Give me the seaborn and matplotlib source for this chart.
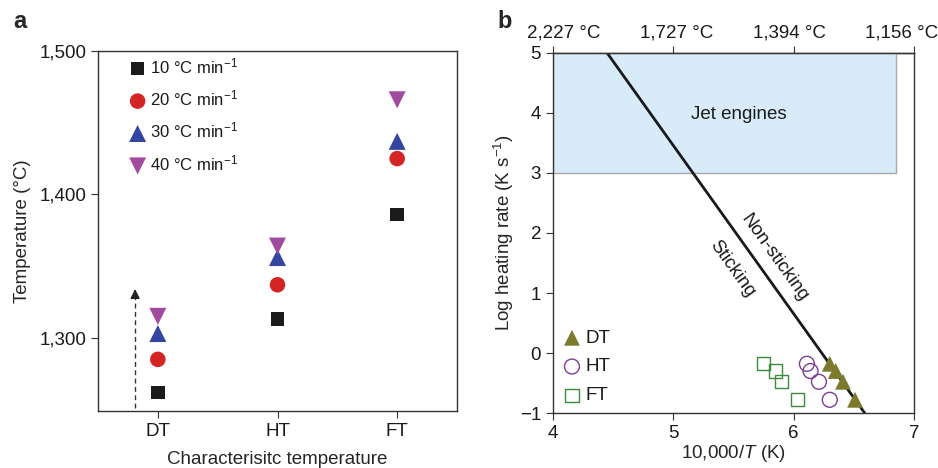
import numpy as np
import pandas as pd
import matplotlib
matplotlib.use("Agg")
import matplotlib.pyplot as plt
import matplotlib.transforms as mtransforms
from matplotlib.ticker import FuncFormatter
from matplotlib.patches import Rectangle
import seaborn as sns

# ---- panel a: characteristic temperatures at four heating rates ----
categories = ["DT", "HT", "FT"]
rate_labels = ["10 °C min$^{-1}$", "20 °C min$^{-1}$", "30 °C min$^{-1}$", "40 °C min$^{-1}$"]
temp_10 = [1262, 1313, 1386]
temp_20 = [1285, 1337, 1425]
temp_30 = [1303, 1356, 1437]
temp_40 = [1315, 1364, 1466]
rate_colors = ["#1b1b1b", "#d42424", "#3545a2", "#a24b9e"]
rate_markers = ["s", "o", "^", "v"]
rate_sizes = [95, 125, 150, 150]

# ---- panel b: heating-rate map ----
dt_x = [6.51, 6.41, 6.35, 6.30]
dt_y = [-0.78, -0.48, -0.30, -0.18]
ht_x = [6.30, 6.21, 6.14, 6.11]
ht_y = [-0.78, -0.48, -0.30, -0.18]
ft_x = [6.03, 5.90, 5.85, 5.75]
ft_y = [-0.78, -0.48, -0.30, -0.18]
boundary_x = [4.45, 6.59]
boundary_y = [5.0, -1.0]
jet_x = [4.0, 6.85]
jet_y = [3.0, 5.0]
top_ticks = [4, 5, 6, 7]
top_labels = ["2,227 °C", "1,727 °C", "1,394 °C", "1,156 °C"]

sns.set_style("ticks")
plt.rcParams["font.family"] = ["Liberation Sans", "DejaVu Sans"]
plt.rcParams["mathtext.fontset"] = "custom"
plt.rcParams["mathtext.rm"] = "Liberation Sans"
plt.rcParams["mathtext.it"] = "Liberation Sans:italic"
plt.rcParams["axes.edgecolor"] = "#333333"
plt.rcParams["axes.linewidth"] = 1.0
plt.rcParams["xtick.color"] = "#333333"
plt.rcParams["ytick.color"] = "#333333"
plt.rcParams["xtick.labelcolor"] = "#1a1a1a"
plt.rcParams["ytick.labelcolor"] = "#1a1a1a"
plt.rcParams["xtick.major.size"] = 5
plt.rcParams["ytick.major.size"] = 5

W, H = 938, 468
fig = plt.figure(figsize=(W / 100, H / 100), dpi=100)

def px_axes(left, top, right, bottom):
    return fig.add_axes([left / W, 1 - bottom / H, (right - left) / W, (bottom - top) / H])

FS = 13.5

# ================= panel a =================
ax = px_axes(98, 51, 457, 411)
series_a = [temp_10, temp_20, temp_30, temp_40]
for vals, lab, col, mk, sz in zip(series_a, rate_labels, rate_colors, rate_markers, rate_sizes):
    df = pd.DataFrame({"cat": categories, "temp": vals})
    sns.scatterplot(data=df, x="cat", y="temp", ax=ax, color=col, marker=mk, s=sz,
                    edgecolor="none", label=lab, zorder=3)
ax.set_xlim(-0.5, 2.5)
ax.set_ylim(1249, 1500)
ax.set_yticks([1300, 1400, 1500])
ax.yaxis.set_major_formatter(FuncFormatter(lambda v, p: f"{v:,.0f}"))
ax.tick_params(labelsize=FS)
ax.set_xlabel("Characterisitc temperature", fontsize=FS, labelpad=8)
ax.set_ylabel("Temperature (°C)", fontsize=FS, labelpad=6)

# dashed arrow: increasing heating rate
arrow_x = -0.19
ax.plot([arrow_x, arrow_x], [1251, 1330], ls=(0, (3.5, 2.5)), color="#333333", lw=1.0)
ax.annotate("", xy=(arrow_x, 1336), xytext=(arrow_x, 1326),
            arrowprops=dict(arrowstyle="-|>", color="#222222", lw=1.0, mutation_scale=14))

leg = ax.legend(loc="upper left", bbox_to_anchor=(0.05, 1.018), frameon=False, fontsize=12,
                handletextpad=0.15, labelspacing=0.75, borderaxespad=0.3, handlelength=1.2,
                markerscale=1.0)
for t in leg.get_texts():
    t.set_color("#1a1a1a")

fig.text(13 / W, 1 - 22 / H, "a", fontsize=17, fontweight="bold", va="center", ha="left")

# ================= panel b =================
bx = px_axes(553, 53, 914, 413)
bx.set_xlim(4, 7)
bx.set_ylim(-1, 5)

bx.add_patch(Rectangle((jet_x[0], jet_y[0]), jet_x[1] - jet_x[0], jet_y[1] - jet_y[0],
                       facecolor="#d8ebf9", edgecolor="#a8a8a8", lw=1.0, zorder=1))
bx.text(np.mean(jet_x) + 0.12, 3.97, "Jet engines", fontsize=FS, ha="center", va="center",
        color="#1a1a1a", zorder=2)

line_df = pd.DataFrame({"x": boundary_x, "y": boundary_y})
sns.lineplot(data=line_df, x="x", y="y", ax=bx, color="#1a1a1a", lw=2.0, zorder=2)

# rotation of the boundary in screen space
p0 = bx.transData.transform((boundary_x[0], boundary_y[0]))
p1 = bx.transData.transform((boundary_x[1], boundary_y[1]))
ang = np.degrees(np.arctan2(p1[1] - p0[1], p1[0] - p0[0]))
bx.text(5.84, 1.58, "Non-sticking", rotation=ang, rotation_mode="anchor", ha="center",
        va="center", fontsize=FS, color="#1a1a1a")
bx.text(5.49, 1.40, "Sticking", rotation=ang, rotation_mode="anchor", ha="center",
        va="center", fontsize=FS, color="#1a1a1a")

sns.scatterplot(x=ft_x, y=ft_y, ax=bx, marker="s", s=90, facecolor="none",
                edgecolor="#3c8a3c", linewidth=1.0, label="FT_", zorder=3)
sns.scatterplot(x=ht_x, y=ht_y, ax=bx, marker="o", s=115, facecolor="none",
                edgecolor="#7b3f93", linewidth=1.0, label="HT_", zorder=3)
sns.scatterplot(x=dt_x, y=dt_y, ax=bx, marker="^", s=130, color="#7c7a2c",
                edgecolor="none", label="DT_", zorder=4)

handles, labels = bx.get_legend_handles_labels()
order = {"DT_": 0, "HT_": 1, "FT_": 2}
pairs = sorted([(h, l) for h, l in zip(handles, labels) if l in order], key=lambda p: order[p[1]])
lg = bx.legend([p[0] for p in pairs], [p[1].rstrip("_") for p in pairs], loc="lower left",
               bbox_to_anchor=(-0.015, -0.012), frameon=False, fontsize=FS, handletextpad=0.1,
               labelspacing=0.62, handlelength=1.2, borderaxespad=0.3)
for t in lg.get_texts():
    t.set_color("#1a1a1a")

bx.set_xticks([4, 5, 6, 7])
bx.set_yticks(range(-1, 6))
bx.tick_params(labelsize=FS)
bx.set_xlabel("10,000/$T$ (K)", fontsize=FS, labelpad=1)
bx.set_ylabel("Log heating rate (K s$^{-1}$)", fontsize=FS, labelpad=3)

top = bx.secondary_xaxis("top")
top.set_xticks(top_ticks)
top.set_xticklabels(top_labels)
top.tick_params(labelsize=FS, length=5, color="#333333")
# nudge the top labels sideways (the last one stays inside the figure)
label_shift_px = [11, 3, -4, -12]
for lbl, dx in zip(top.xaxis.get_majorticklabels(), label_shift_px):
    lbl.set_transform(lbl.get_transform() + mtransforms.ScaledTranslation(dx / 100, 0, fig.dpi_scale_trans))

fig.text(497 / W, 1 - 22 / H, "b", fontsize=17, fontweight="bold", va="center", ha="left")

fig.savefig("out.png", dpi=100)
